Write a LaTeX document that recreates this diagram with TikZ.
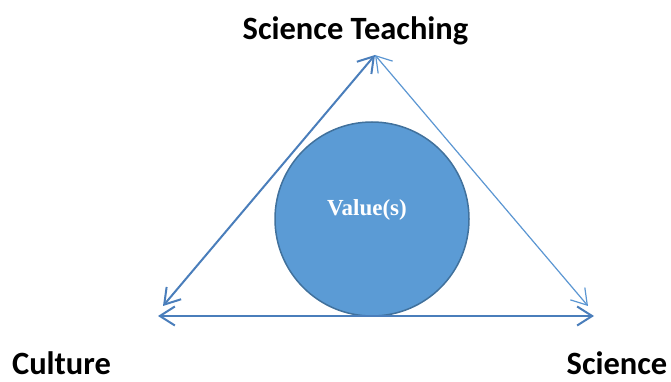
\documentclass[tikz,border=0pt]{standalone}
\usepackage{fontspec}
\newfontfamily\labelfont{Carlito}
\newfontfamily\valuefont{Liberation Serif}
\definecolor{circleblue}{RGB}{91,155,213}
\definecolor{circleedge}{RGB}{65,113,156}
\definecolor{arrowblue}{RGB}{74,126,187}
\definecolor{lightarrow}{RGB}{91,150,210}
\usetikzlibrary{shapes,arrows,arrows.meta,positioning,calc}

\tikzset{
    corner/.style={font=\labelfont\bfseries\fontsize{32.5}{36}\selectfont, anchor=base, inner sep=0pt},
    biarrow/.style={draw=arrowblue, line width=2pt, {Straight Barb[length=15pt,width=19pt]}-{Straight Barb[length=15pt,width=19pt]}},
    valuecircle/.style={circle, fill=circleblue, draw=circleedge, line width=1.5pt, minimum size=194pt, inner sep=0pt}
}

\begin{document}
\begin{tikzpicture}[x=1pt, y=1pt]
    \useasboundingbox (0,0) rectangle (671,382);
    % triangle corners
    \coordinate (apex) at (375,327);
    \coordinate (leftend) at (163,76);
    \coordinate (rightend) at (588,76);
    \coordinate (baseleft) at (158,66);
    \coordinate (baseright) at (594,66);
    % the value circle
    \node[valuecircle] (value) at (372,163) {};
    \node[font=\valuefont\bfseries\fontsize{23}{26}\selectfont, text=white, anchor=base, inner sep=0pt] (valuetext) at (367,166) {Value(s)};
    % arrows
    \draw[biarrow] (apex) -- (leftend);
    \draw[biarrow, draw=lightarrow, line width=1.2pt] (apex) -- (rightend);
    \draw[biarrow] (baseleft) -- (baseright);
    % labels
    \node[corner] (teaching) at (355.5,342) {Science Teaching};
    \node[corner] (culture) at (61.5,7) {Culture};
    \node[corner] (science) at (617,7) {Science};
\end{tikzpicture}
\end{document}
